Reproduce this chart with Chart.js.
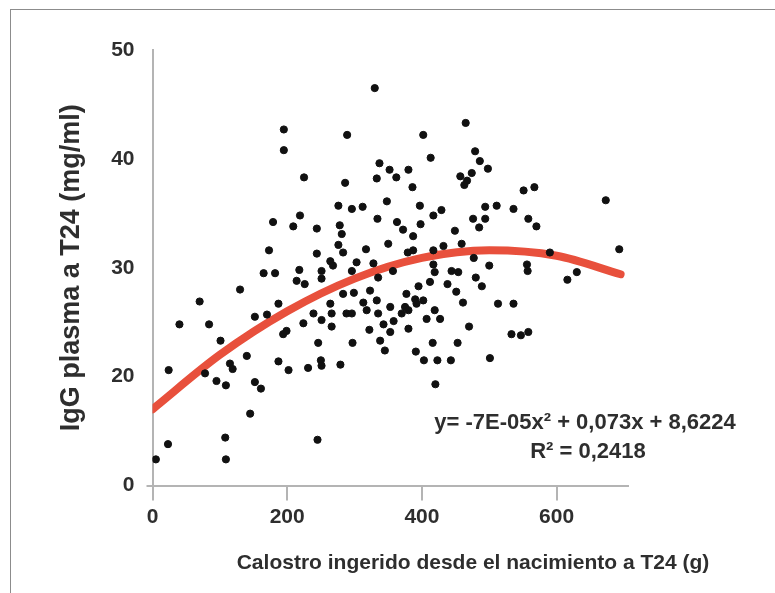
<!DOCTYPE html>
<html>
<head>
<meta charset="utf-8">
<title>IgG plasma vs calostro ingerido</title>
<script src="https://cdn.jsdelivr.net/npm/chart.js@4/dist/chart.umd.min.js"></script>
<style>
  html, body { margin: 0; padding: 0; background: #fff; }
  #wrap { position: relative; width: 775px; height: 593px; }
  #frame { position: absolute; left: 10px; top: 9px; right: 0; bottom: 0; border-left: 1px solid #8c8c8c; border-top: 1px solid #8c8c8c; pointer-events: none; }
  canvas { position: absolute; left: 0; top: 0; }
</style>
</head>
<body>
<div id="wrap">
  <canvas id="chart" width="775" height="593"></canvas>
  <div id="frame"></div>
</div>
<script>
// valores (x = calostro g, y = IgG en la escala dibujada)
const calostro = [
  330,195,195,289,225,286,337,333,352,362,380,348,276,296,312,219,179,209,244,278,281,334,363,372,173,276,283,317,350,244,264,268,251,303,328,296,165,182,218,214,226,251,379,357,335,130,
  70,40,84,101,187,152,170,199,194,224,239,251,264,266,266,283,288,299,296,313,323,318,333,335,343,353,358,370,380,353,322,338,345,297,246,140,115,119,187,202,231,250,251,279,24,78,95,109,152,161,145,108,109,23,5,245,
  465,402,413,386,479,486,498,457,467,474,463,551,567,673,397,494,511,536,429,417,398,476,494,485,558,570,449,387,459,432,417,387,693,590,477,417,500,556,557,444,454,419,630,616,480,489,412,395,438,451,377,390,402,461,513,536,419,375,407,427,
  380,392,470,533,547,558,416,453,391,403,423,443,501,420
];
const iggPlasma = [
  46.5,42.7,40.8,42.2,38.3,37.8,39.6,38.2,39.0,38.3,39.0,36.1,35.7,35.4,35.6,34.8,34.2,33.8,33.6,33.9,33.1,34.5,34.2,33.5,31.6,32.1,31.4,31.7,32.2,31.3,30.6,30.2,29.7,30.5,30.4,29.7,29.5,29.5,29.8,28.8,28.5,29.0,31.4,29.7,29.1,28.0,
  26.9,24.8,24.8,23.3,26.7,25.5,25.7,24.2,23.9,24.9,25.8,25.2,26.7,25.8,24.6,27.6,25.8,27.7,25.8,26.8,27.9,26.1,27.0,25.8,24.8,26.4,25.1,25.8,24.4,24.1,24.3,23.3,22.4,23.1,23.1,21.9,21.2,20.7,21.4,20.6,20.8,21.5,21.0,21.1,20.6,20.3,19.6,19.2,19.5,18.9,16.6,14.4,12.4,13.8,12.4,14.2,
  43.3,42.2,40.1,37.4,40.7,39.8,39.1,38.4,38.0,38.7,37.6,37.1,37.4,36.2,35.7,35.6,35.7,35.4,35.3,34.8,34.0,34.5,34.5,33.7,34.5,33.8,33.4,32.9,32.2,32.0,31.6,31.6,31.7,31.4,30.9,30.3,30.2,30.3,29.7,29.7,29.6,29.6,29.6,28.9,29.1,28.3,28.7,28.3,28.5,27.8,27.6,27.1,27.0,26.8,26.7,26.7,26.1,26.4,25.3,25.3,
  26.1,26.7,24.6,23.9,23.8,24.1,23.1,23.1,22.3,21.5,21.5,21.5,21.7,19.3
];

const trendX = [0, 100, 200, 300, 400, 500, 600, 695];
const trendY = [17.0, 22.0, 26.0, 29.0, 30.9, 31.6, 31.1, 29.4];

const xTicks = [0, 200, 400, 600];
const yTicks = [10, 20, 30, 40, 50];
const yTickLabels = ['0', '20', '30', '40', '50'];

const xTitle = 'Calostro ingerido desde el nacimiento a T24 (g)';
const yTitle = 'IgG plasma a T24 (mg/ml)';
const equation = ['y= -7E-05x\u00B2 + 0,073x + 8,6224', 'R\u00B2 = 0,2418'];

const FONT = '"Liberation Sans", Arial, Helvetica, sans-serif';
const AXIS = '#b4b4b4';
const TXT = '#2e2e2e';

const points = calostro.map((x, i) => ({ x: x, y: iggPlasma[i] }));
const trend = trendX.map((x, i) => ({ x: x, y: trendY[i] }));

// textos libres: titulo del eje x y ecuacion
const textPlugin = {
  id: 'texts',
  afterDraw(chart) {
    const ctx = chart.ctx;
    ctx.save();
    ctx.fillStyle = TXT;
    ctx.textAlign = 'center';
    ctx.textBaseline = 'middle';
    ctx.font = 'bold 21px ' + FONT;
    ctx.fillText(xTitle, 473, 563);
    ctx.font = 'bold 22px ' + FONT;
    ctx.fillText(equation[0], 585, 423);
    ctx.fillText(equation[1], 588, 452);
    ctx.restore();
  }
};

new Chart(document.getElementById('chart'), {
  type: 'scatter',
  data: {
    datasets: [
      {
        type: 'scatter',
        data: points,
        backgroundColor: '#111',
        borderColor: '#111',
        pointRadius: 3.6,
        pointHoverRadius: 3.6,
        order: 0
      },
      {
        type: 'line',
        data: trend,
        borderColor: '#e8503c',
        borderWidth: 8,
        borderCapStyle: 'round',
        pointRadius: 0,
        fill: false,
        cubicInterpolationMode: 'monotone',
        order: 1
      }
    ]
  },
  options: {
    responsive: false,
    animation: false,
    devicePixelRatio: 1,
    layout: { padding: { top: 50, right: 147, bottom: 0, left: 55 } },
    plugins: { legend: { display: false }, tooltip: { enabled: false } },
    scales: {
      x: {
        type: 'linear',
        min: 0,
        max: 706,
        afterFit(s) { s.height = 107.5; },
        afterBuildTicks(s) { s.ticks = xTicks.map(v => ({ value: v })); },
        border: { color: AXIS, width: 2 },
        grid: { drawOnChartArea: false, drawTicks: true, tickLength: 15, color: AXIS, lineWidth: 2 },
        ticks: { color: TXT, padding: 4, font: { family: FONT, size: 21, weight: 'bold' } }
      },
      y: {
        type: 'linear',
        min: 10,
        max: 50,
        afterFit(s) { s.width = 97.5; },
        afterBuildTicks(s) { s.ticks = yTicks.map(v => ({ value: v })); },
        border: { color: AXIS, width: 2 },
        grid: {
          drawOnChartArea: false,
          tickLength: 6,
          lineWidth: 2,
          color: c => (c.tick && c.tick.value === yTicks[0]) ? AXIS : 'rgba(0,0,0,0)'
        },
        ticks: {
          color: TXT,
          padding: 12,
          font: { family: FONT, size: 21, weight: 'bold' },
          callback: (v) => yTickLabels[yTicks.indexOf(v)]
        },
        title: {
          display: true,
          text: yTitle,
          color: TXT,
          padding: 0,
          font: { family: FONT, size: 27, weight: 'bold' }
        }
      }
    }
  },
  plugins: [textPlugin]
});
</script>
</body>
</html>
